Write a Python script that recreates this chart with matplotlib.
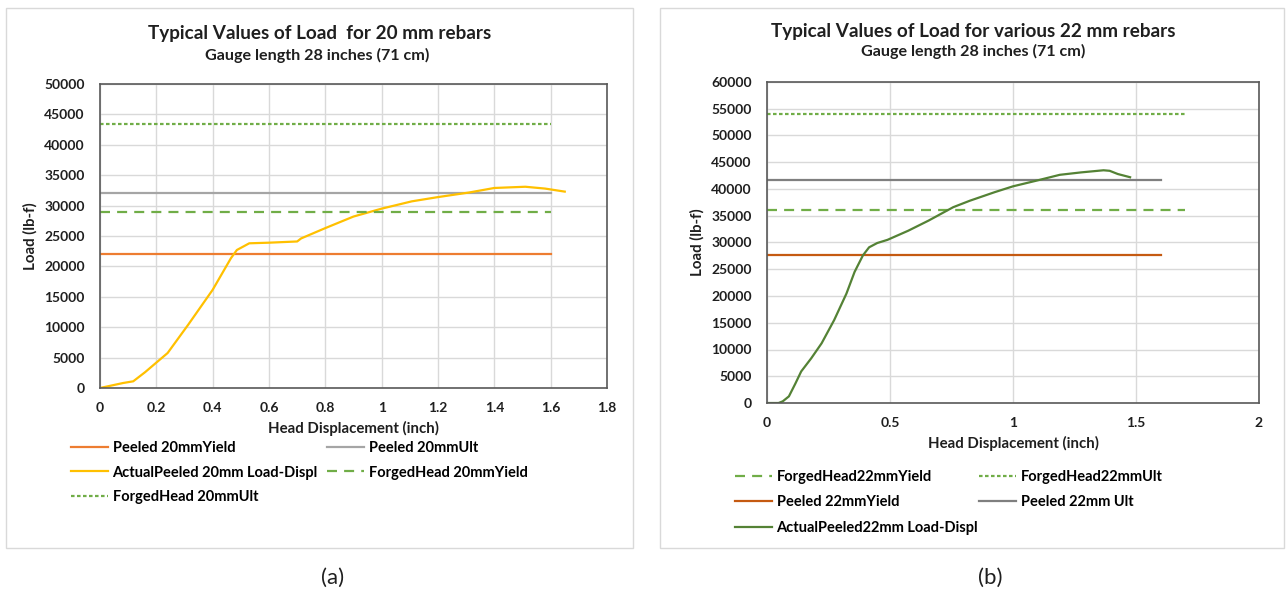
import matplotlib.pyplot as plt
from matplotlib.patches import Rectangle
from matplotlib.ticker import FuncFormatter

plt.rcParams['font.family'] = ['Lato', 'DejaVu Sans']
plt.rcParams['font.weight'] = 'bold'

# ---- panel (a): 20 mm rebars ----
disp_20 = [0, 0.04, 0.082, 0.118, 0.16, 0.198, 0.24, 0.313, 0.4, 0.465, 0.486, 0.53, 0.60,
           0.70, 0.714, 0.80, 0.90, 1.0, 1.107, 1.2, 1.31, 1.40, 1.51, 1.58, 1.65]
load_20 = [0, 400, 820, 1100, 2600, 4100, 5750, 10400, 16150, 21360, 22700, 23800, 23900,
           24100, 24600, 26300, 28200, 29500, 30700, 31400, 32150, 32900, 33100, 32800, 32300]
peeled_20_yield = 22000
peeled_20_ult = 32000
forged_20_yield = 29000
forged_20_ult = 43500
ref_x_20 = [0, 1.6]

# ---- panel (b): 22 mm rebars ----
disp_22 = [0, 0.047, 0.064, 0.089, 0.115, 0.139, 0.18, 0.222, 0.273, 0.323, 0.356, 0.39, 0.415,
           0.448, 0.49, 0.574, 0.657, 0.757, 0.824, 0.925, 1.0, 1.09, 1.19, 1.276, 1.368,
           1.393, 1.426, 1.476]
load_22 = [0, 0, 310, 1240, 3600, 5900, 8370, 11160, 15500, 20460, 24500, 27600, 29100,
           29900, 30500, 32200, 34100, 36600, 37800, 39400, 40500, 41500, 42650, 43100, 43500,
           43400, 42800, 42200]
peeled_22_yield = 27600
peeled_22_ult = 41600
forged_22_yield = 36000
forged_22_ult = 54100
ref_x_22_peeled = [0, 1.6]
ref_x_22_forged = [0, 1.7]

W, H = 1286, 599
fig = plt.figure(figsize=(W / 100, H / 100), dpi=100)


def fx(px):
    return px / W


def fy(py):
    return 1 - py / H


# outer chart boxes
for x0, x1 in [(6, 633), (660, 1284)]:
    fig.patches.append(Rectangle((fx(x0), fy(548)), fx(x1 - x0), (548 - 8) / H,
                                 transform=fig.transFigure, fill=False,
                                 edgecolor='#D9D9D9', linewidth=1))

general = FuncFormatter(lambda v, p: ('%g' % round(v, 2)))
TXT = '#1f1f1f'


def style_axes(ax, xmax, xstep, ymax):
    ax.set_xlim(0, xmax)
    ax.set_ylim(0, ymax)
    ax.set_xticks([i * xstep for i in range(int(round(xmax / xstep)) + 1)])
    ax.set_yticks(range(0, ymax + 1, 5000))
    ax.xaxis.set_major_formatter(general)
    ax.grid(True, color='#D9D9D9', linewidth=1)
    ax.set_axisbelow(True)
    ax.tick_params(length=0, labelsize=10, pad=11, colors=TXT)
    ax.tick_params(axis='x', pad=10)
    for s in ax.spines.values():
        s.set_color('#595959')
        s.set_linewidth(1.2)
    for lab in ax.get_xticklabels() + ax.get_yticklabels():
        lab.set_fontweight('bold')


lw = 1.6
long_dash = (0, (4.5, 3.2))
short_dash = (0, (1.6, 1.1))

# ---- (a) ----
ax1 = fig.add_axes([fx(100), fy(388), fx(607 - 100), (388 - 84) / H])
style_axes(ax1, 1.8, 0.2, 50000)
h_py, = ax1.plot(ref_x_20, [peeled_20_yield] * 2, color='#ED7D31', lw=lw)
h_pu, = ax1.plot(ref_x_20, [peeled_20_ult] * 2, color='#A5A5A5', lw=lw)
h_act, = ax1.plot(disp_20, load_20, color='#FFC000', lw=lw)
h_fy, = ax1.plot(ref_x_20, [forged_20_yield] * 2, color='#70AD47', lw=lw, linestyle=long_dash)
h_fu, = ax1.plot(ref_x_20, [forged_20_ult] * 2, color='#70AD47', lw=lw, linestyle=short_dash)
ax1.set_ylabel('Load (lb-f)', fontsize=10.8, fontweight='bold', labelpad=5, color=TXT)
ax1.set_xlabel('Head Displacement (inch)', fontsize=10.8, fontweight='bold', labelpad=5, color=TXT)

fig.text(fx(320), fy(33), 'Typical Values of Load  for 20 mm rebars', ha='center', va='center',
         fontsize=13.6, fontweight='bold', color=TXT)
fig.text(fx(317), fy(55), 'Gauge length 28 inches (71 cm)', ha='center', va='center',
         fontsize=11.6, fontweight='bold', color=TXT)

leg_kw = dict(frameon=False, loc='upper left', handlelength=2.55, handletextpad=0.3,
              borderaxespad=0, borderpad=0,
              prop={'size': 10.5, 'weight': 'bold'})
fig.legend([h_py, h_act, h_fu],
           ['Peeled 20mmYield', 'ActualPeeled 20mm Load-Displ', 'ForgedHead 20mmUlt'],
           bbox_to_anchor=(fx(71), fy(441)), labelspacing=0.72, **leg_kw)
fig.legend([h_pu, h_fy], ['Peeled 20mmUlt', 'ForgedHead 20mmYield'],
           bbox_to_anchor=(fx(327), fy(441)), labelspacing=0.72, **leg_kw)

# ---- (b) ----
ax2 = fig.add_axes([fx(767), fy(403), fx(1259 - 767), (403 - 82) / H])
style_axes(ax2, 2.0, 0.5, 60000)
g_fy, = ax2.plot(ref_x_22_forged, [forged_22_yield] * 2, color='#70AD47', lw=lw, linestyle=long_dash)
g_fu, = ax2.plot(ref_x_22_forged, [forged_22_ult] * 2, color='#70AD47', lw=lw, linestyle=short_dash)
g_py, = ax2.plot(ref_x_22_peeled, [peeled_22_yield] * 2, color='#C55A11', lw=lw)
g_pu, = ax2.plot(ref_x_22_peeled, [peeled_22_ult] * 2, color='#7F7F7F', lw=lw)
g_act, = ax2.plot(disp_22, load_22, color='#548235', lw=lw)
ax2.set_ylabel('Load (lb-f)', fontsize=10.8, fontweight='bold', labelpad=5, color=TXT)
ax2.set_xlabel('Head Displacement (inch)', fontsize=10.8, fontweight='bold', labelpad=5, color=TXT)

fig.text(fx(973), fy(31), 'Typical Values of Load for various 22 mm rebars', ha='center', va='center',
         fontsize=13.6, fontweight='bold', color=TXT)
fig.text(fx(973), fy(51), 'Gauge length 28 inches (71 cm)', ha='center', va='center',
         fontsize=11.6, fontweight='bold', color=TXT)

fig.legend([g_fy, g_py, g_act],
           ['ForgedHead22mmYield', 'Peeled 22mmYield', 'ActualPeeled22mm Load-Displ'],
           bbox_to_anchor=(fx(735), fy(470)), labelspacing=0.78, **leg_kw)
fig.legend([g_fu, g_pu], ['ForgedHead22mmUlt', 'Peeled 22mm Ult'],
           bbox_to_anchor=(fx(979), fy(470)), labelspacing=0.78, **leg_kw)

# captions
fig.text(fx(333), fy(578), '(a)', ha='center', va='center', fontsize=16, fontweight='normal',
         color=TXT)
fig.text(fx(990), fy(578), '(b)', ha='center', va='center', fontsize=16, fontweight='normal',
         color=TXT)

fig.savefig('out.png', dpi=100)
